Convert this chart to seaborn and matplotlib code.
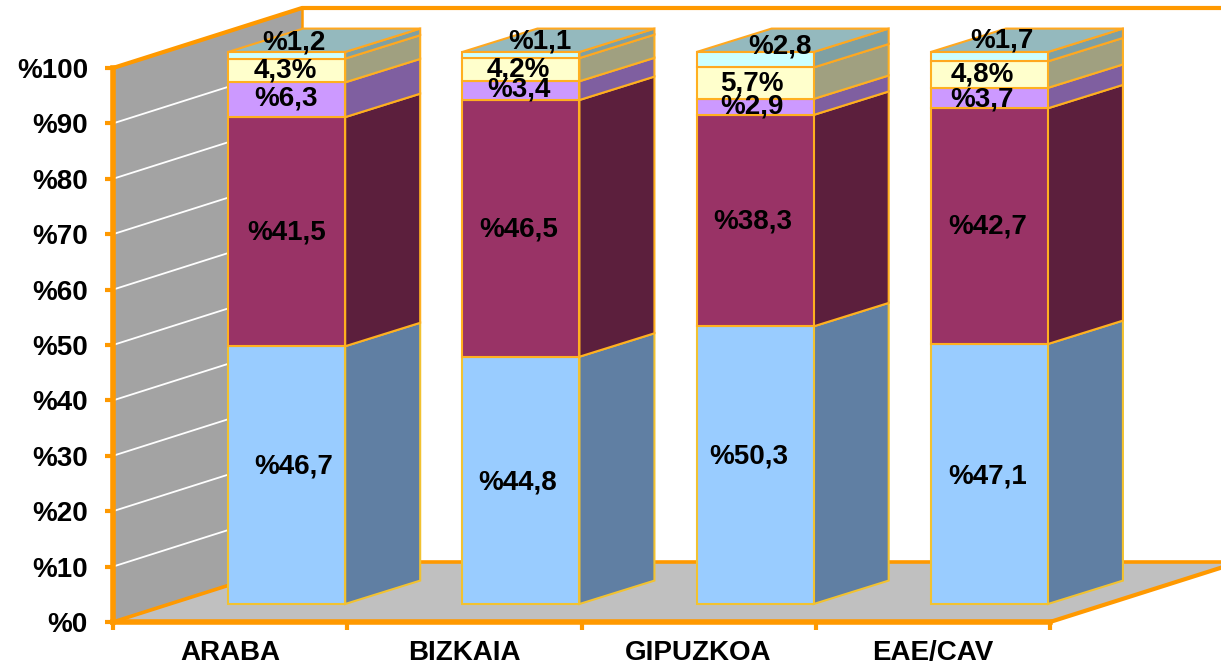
import matplotlib
matplotlib.use("Agg")
import matplotlib.pyplot as plt
import numpy as np
import seaborn as sns
from matplotlib.patches import Polygon
from matplotlib.transforms import Affine2D

categories = ["ARABA", "BIZKAIA", "GIPUZKOA", "EAE/CAV"]
blue = [46.7, 44.8, 50.3, 47.1]
maroon = [41.5, 46.5, 38.3, 42.7]
purple = [6.3, 3.4, 2.9, 3.7]
yellow = [4.3, 4.2, 5.7, 4.8]
cyan = [1.2, 1.1, 2.8, 1.7]
y_ticks = [0, 10, 20, 30, 40, 50, 60, 70, 80, 90, 100]

series = [blue, maroon, purple, yellow, cyan]
front_colors = ["#99CCFF", "#993366", "#CC99FF", "#FFFFCC", "#CCFFFF"]
side_colors = ["#607FA3", "#5C1F3D", "#7F5FA0", "#A0A080", "#7FA0A3"]
edge_colors = ["#F2C230", "#FFB020", "#FFB020", "#FFB020", "#FFA820"]
top_color = "#94B9BE"
ORANGE = "#FF9900"

# label nudges in pixels (per series, per category)
nudge_x = [[7, -3, -6, -2], [0, -2, -2, -2], [-1, -2, -3, -7], [-1, -3, -3, -7], [7, 19, 25, 13]]
nudge_y = [[9, -2, 9, -2], [-1, -1, -1, 0], [1, 1, 0, -1], [0, 0, 0, 0], [13, 14, 13, 16]]

W, H = 1221, 668
sns.set_theme(style="white")
plt.rcParams["font.family"] = ["Liberation Sans", "DejaVu Sans"]
fig = plt.figure(figsize=(W / 100, H / 100), dpi=100, facecolor="white")
L, R, T, B = 113, 1050, 68, 622
ax = fig.add_axes([L / W, 1 - B / H, (R - L) / W, (B - T) / H])
ax.set_facecolor("none")

PX_X = (R - L) / 4
PX_Y = (B - T) / 100
DX, DY = 189 / PX_X, 60 / PX_Y       # full depth of the chart box
BAR_X, BAR_Y = 56.5 / PX_X, 18 / PX_Y  # bar front-face offset
SX, SY = 75 / PX_X, 23.5 / PX_Y      # bar depth
bar_tf = Affine2D().scale(1, 0.9964).translate(BAR_X, BAR_Y) + ax.transData

x0, x1 = -0.5, 3.5
# side wall, floor
ax.add_patch(Polygon([(x0, 0), (x0 + DX, DY), (x0 + DX, 100 + DY), (x0, 100)],
                     fc="#A3A3A3", ec="none", zorder=1, clip_on=False))
ax.add_patch(Polygon([(x0, 0), (x0 + DX, DY), (x1 + DX, DY), (x1, 0)],
                     fc="#C0C0C0", ec="none", zorder=1, clip_on=False))
for t in y_ticks[1:-1]:
    ax.plot([x0, x0 + DX], [t, t + DY], color="white", lw=1.3, zorder=1.5, clip_on=False)
frame = dict(color=ORANGE, zorder=2, clip_on=False, solid_capstyle="round")
ax.plot([x0, x0 + DX, x1 + DX], [100, 100 + DY, 100 + DY], lw=3, **frame)
ax.plot([x0 + DX, x0 + DX], [100 + DY, DY], lw=1.8, **frame)
ax.plot([x0, x0 + DX, x1 + DX], [0, DY, DY], lw=2.6, **frame)
ax.plot([x1, x1 + DX], [0, DY], lw=3, **frame)

bottoms = np.zeros(len(categories))
for i, vals in enumerate(series):
    sns.barplot(x=categories, y=vals, bottom=bottoms, color=front_colors[i], saturation=1,
                width=0.5, edgecolor=edge_colors[i], linewidth=1.5, ax=ax, zorder=5)
    rects = ax.containers[-1]
    for j, r in enumerate(rects):
        r.set_transform(bar_tf)
        r.set_clip_on(False)
        xl, xr = r.get_x(), r.get_x() + r.get_width()
        yb, yt = r.get_y(), r.get_y() + r.get_height()
        ax.add_patch(Polygon([(xr, yb), (xr + SX, yb + SY), (xr + SX, yt + SY), (xr, yt)],
                             fc=side_colors[i], ec=edge_colors[i], lw=1.5, zorder=4,
                             transform=bar_tf, clip_on=False))
        if i == len(series) - 1:
            ax.add_patch(Polygon([(xl, yt), (xl + SX, yt + SY), (xr + SX, yt + SY), (xr, yt)],
                                 fc=top_color, ec=edge_colors[i], lw=1.5, zorder=4,
                                 transform=bar_tf, clip_on=False))
        num = f"{vals[j]:.1f}".replace(".", ",")
        label = f"{num}%" if vals is yellow else f"%{num}"
        ax.annotate(label, xy=((xl + xr) / 2, (yb + yt) / 2), xycoords=bar_tf,
                    xytext=(nudge_x[i][j], nudge_y[i][j]), textcoords="offset pixels",
                    ha="center", va="center", fontsize=20, fontweight="bold",
                    color="black", zorder=10, annotation_clip=False)
    bottoms = bottoms + np.array(vals)

ax.set_xlim(x0, x1)
ax.set_ylim(0, 100)
ax.set_xlabel("")
ax.set_ylabel("")
for s in ["top", "right"]:
    ax.spines[s].set_visible(False)
for s in ["left", "bottom"]:
    ax.spines[s].set_color(ORANGE)
    ax.spines[s].set_linewidth(4)
    ax.spines[s].set_zorder(3)

ax.set_yticks(y_ticks)
ax.set_yticklabels([f"%{t}" for t in y_ticks], fontsize=20, fontweight="bold", color="black")
ax.tick_params(axis="y", which="major", left=True, length=6, width=3, color=ORANGE, pad=12)
ax.set_xticks(np.arange(x0, x1 + 0.5, 1))
ax.set_xticklabels([])
ax.set_xticks(range(len(categories)), labels=categories, minor=True)
ax.tick_params(axis="x", which="major", bottom=True, length=6, width=3, color=ORANGE)
ax.tick_params(axis="x", which="minor", bottom=False, length=0, pad=13, labelsize=20)
for t in ax.get_xticklabels(minor=True):
    t.set_fontweight("bold")
    t.set_color("black")

fig.savefig("out.png", dpi=100, facecolor="white")
